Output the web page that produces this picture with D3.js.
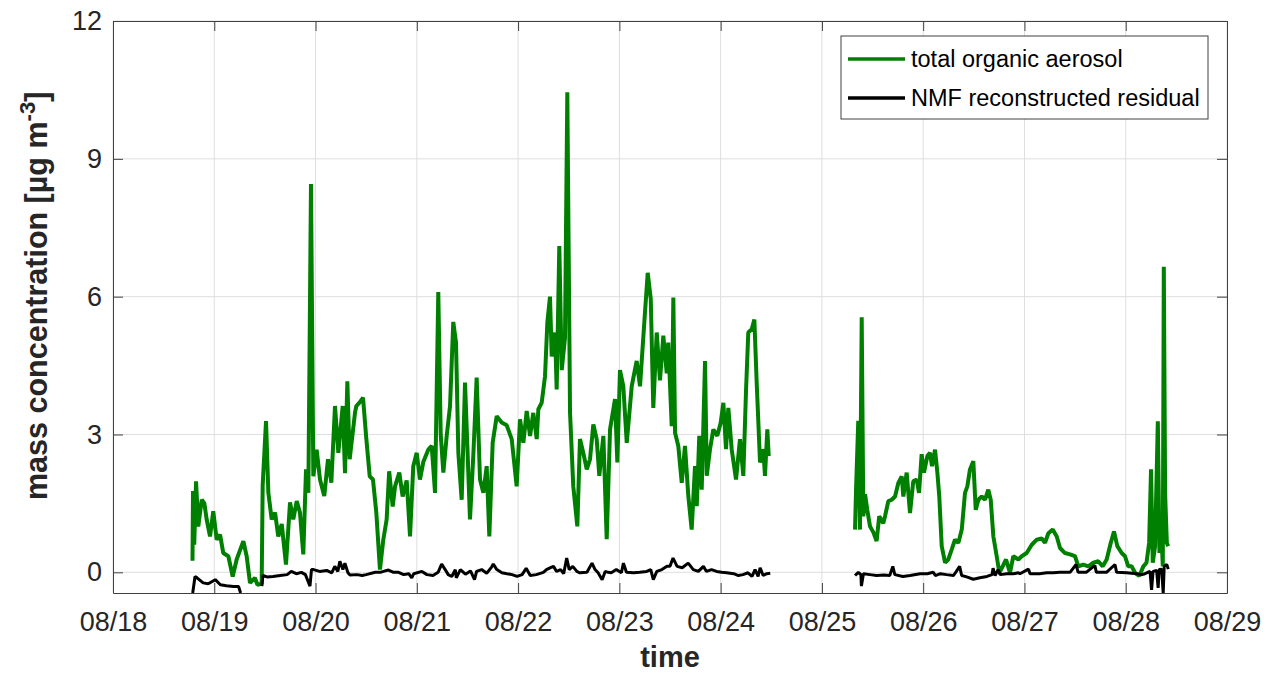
<!DOCTYPE html>
<html>
<head>
<meta charset="utf-8">
<script src="https://cdn.jsdelivr.net/npm/d3@7"></script>
<style>
  body { margin: 0; background: #fff; }
  svg text { font-family: "Liberation Sans", Arial, Helvetica, sans-serif; fill: #262626; }
  .grid line { stroke: #dedede; stroke-width: 1; }
  .axis path, .axis line { stroke: #404040; stroke-width: 1; }
</style>
</head>
<body>
<div id="chart"></div>
<script>

// time is given in days after 08/18 00:00, values in µg m-3
// null marks a gap in the measurement
const toaDays = [
  0.785, 0.790, 0.802, 0.820, 0.842, 0.876, 0.902, 0.925, 0.958, 0.990,
  1.024, 1.057, 1.089, 1.139, 1.182, 1.221, 1.287, 1.320, 1.353, 1.402,
  1.425, 1.468, 1.478, 1.511, 1.534, 1.567, 1.600, 1.632, 1.666, 1.708,
  1.748, 1.780, 1.814, 1.846, 1.879, 1.906, 1.929, 1.955, 1.978, 2.011,
  2.044, 2.086, 2.123, 2.156, 2.192, 2.225, 2.268, 2.291, 2.314, 2.337,
  2.390, 2.403, 2.436, 2.469, 2.502, 2.535, 2.567, 2.600, 2.636, 2.669,
  2.702, 2.727, 2.762, 2.785, 2.827, 2.860, 2.900, 2.933, 2.965, 2.999,
  3.031, 3.064, 3.113, 3.147, 3.180, 3.212, 3.236, 3.262, 3.295, 3.328,
  3.360, 3.387, 3.410, 3.443, 3.476, 3.499, 3.525, 3.558, 3.591, 3.624,
  3.657, 3.690, 3.716, 3.749, 3.789, 3.838, 3.888, 3.937, 3.986, 4.019,
  4.052, 4.085, 4.118, 4.150, 4.184, 4.200, 4.233, 4.266, 4.289, 4.315,
  4.332, 4.365, 4.381, 4.407, 4.431, 4.463, 4.486, 4.513, 4.545, 4.585,
  4.611, 4.644, 4.678, 4.710, 4.743, 4.776, 4.802, 4.842, 4.875, 4.908,
  4.957, 4.980, 5.006, 5.039, 5.073, 5.122, 5.171, 5.204, 5.253, 5.280,
  5.310, 5.335, 5.369, 5.401, 5.434, 5.468, 5.483, 5.517, 5.533, 5.550,
  5.582, 5.616, 5.648, 5.681, 5.714, 5.747, 5.764, 5.789, 5.813, 5.846,
  5.863, 5.895, 5.928, 5.967, 6.001, 6.027, 6.053, 6.076, 6.109, 6.152,
  6.191, 6.224, 6.251, 6.273, 6.307, 6.333, 6.356, 6.389, 6.421, 6.438,
  6.461, 6.475,
  7.0,
  7.327, 7.337, 7.359, 7.376, 7.393, 7.409, 7.426, 7.448, 7.475, 7.508,
  7.540, 7.566, 7.606, 7.623, 7.656, 7.689, 7.722, 7.754, 7.788, 7.804,
  7.837, 7.870, 7.902, 7.936, 7.959, 7.985, 8.008, 8.041, 8.067, 8.087,
  8.117, 8.140, 8.159, 8.183, 8.216, 8.248, 8.282, 8.314, 8.347, 8.381,
  8.413, 8.436, 8.462, 8.495, 8.519, 8.545, 8.578, 8.611, 8.643, 8.667,
  8.693, 8.726, 8.752, 8.785, 8.818, 8.857, 8.890, 8.940, 8.973, 9.022,
  9.072, 9.121, 9.170, 9.203, 9.236, 9.279, 9.319, 9.351, 9.400, 9.450,
  9.499, 9.532, 9.581, 9.631, 9.680, 9.729, 9.773, 9.812, 9.852, 9.884,
  9.917, 9.960, 9.993, 10.025, 10.059, 10.092, 10.134, 10.174, 10.205, 10.231,
  10.250, 10.267, 10.290, 10.317, 10.333, 10.347, 10.366, 10.376, 10.389, 10.406,
  10.419
];
const toaValues = [
  0.25, 1.77, 0.60, 1.98, 1.00, 1.58, 1.50, 1.15, 0.78, 1.33,
  0.71, 0.82, 0.42, 0.35, -0.09, 0.28, 0.68, 0.35, -0.23, -0.12,
  -0.27, -0.25, 1.90, 3.29, 1.73, 1.15, 1.30, 0.78, 1.05, 0.17,
  1.52, 1.15, 1.55, 1.30, 0.39, 2.24, 1.73, 8.45, 2.09, 2.67,
  2.02, 1.66, 2.46, 1.95, 3.62, 2.60, 3.62, 2.16, 4.16, 2.46,
  3.48, 3.62, 3.70, 3.80, 2.89, 2.09, 2.02, 1.30, 0.06, 0.71,
  1.15, 2.20, 1.43, 1.87, 2.17, 1.65, 2.00, 0.78, 2.31, 2.60,
  2.02, 2.40, 2.67, 2.75, 1.73, 6.10, 3.00, 2.17, 2.97, 3.62,
  5.45, 5.00, 2.60, 1.58, 4.13, 2.75, 1.15, 2.55, 4.24, 2.02,
  1.73, 2.31, 0.78, 2.82, 3.40, 3.26, 3.20, 2.90, 1.87, 3.33,
  2.82, 3.51, 2.97, 3.47, 2.90, 3.55, 3.69, 4.27, 5.44, 6.00,
  4.70, 5.22, 3.98, 7.10, 4.40, 5.10, 10.45, 3.47, 1.87, 1.00,
  2.90, 2.60, 2.24, 2.46, 3.22, 2.90, 2.10, 2.97, 0.72, 3.11,
  3.77, 2.39, 4.40, 4.05, 2.82, 4.05, 4.60, 4.05, 5.66, 6.52,
  5.95, 3.58, 5.22, 4.18, 5.15, 4.33, 5.00, 3.18, 5.98, 3.04,
  2.75, 1.95, 2.75, 1.66, 0.93, 2.31, 1.44, 2.97, 1.80, 4.60,
  2.10, 2.68, 3.11, 2.97, 3.26, 3.69, 2.68, 3.58, 2.68, 2.02,
  2.90, 2.10, 3.98, 5.22, 5.29, 5.50, 4.13, 2.39, 2.68, 2.10,
  3.11, 2.53,
  null,
  0.93, 1.80, 3.30, 0.93, 5.55, 1.22, 1.70, 1.36, 1.00, 0.87,
  0.68, 1.22, 1.07, 1.22, 1.55, 1.58, 1.65, 1.94, 2.09, 1.65,
  2.17, 1.29, 1.98, 2.02, 1.73, 2.57, 2.17, 2.53, 2.60, 2.31,
  2.67, 2.17, 1.65, 0.57, 0.21, 0.28, 0.50, 0.71, 0.64, 0.93,
  1.73, 1.87, 2.24, 2.42, 1.36, 1.58, 1.65, 1.58, 1.80, 1.58,
  0.78, 0.35, -0.01, 0.13, 0.28, -0.01, 0.35, 0.28, 0.35, 0.42,
  0.60, 0.71, 0.74, 0.64, 0.85, 0.93, 0.78, 0.53, 0.42, 0.39,
  0.35, 0.13, 0.17, 0.13, 0.21, 0.24, 0.13, 0.28, 0.64, 0.89,
  0.57, 0.42, 0.35, 0.13, 0.13, -0.01, -0.08, 0.13, 0.21, 0.64,
  2.24, 0.21, 0.57, 3.29, 0.42, 1.15, 0.13, 6.65, 1.72, 0.64,
  0.57
];

const residualDays = [
  0.787, 0.81, 0.83, 0.89, 0.94, 1.01, 1.06, 1.12, 1.19, 1.24, 1.26,
  1.35,
  1.47, 1.48, 1.52, 1.58, 1.65, 1.72, 1.76, 1.81, 1.86, 1.90,
  1.945, 1.96, 1.98, 2.04, 2.11, 2.16, 2.19, 2.22, 2.24, 2.27,
  2.29, 2.32, 2.34, 2.41, 2.46, 2.50, 2.59, 2.64, 2.67, 2.72,
  2.77, 2.82, 2.87, 2.92, 2.95, 2.97, 3.05, 3.10, 3.16, 3.21,
  3.245, 3.28, 3.31, 3.345, 3.38, 3.39, 3.43, 3.48, 3.53, 3.57,
  3.59, 3.64, 3.69, 3.74, 3.755, 3.79, 3.84, 3.89, 3.94, 3.99,
  4.04, 4.08, 4.12, 4.18, 4.25, 4.28, 4.32, 4.35, 4.38, 4.42,
  4.45, 4.48, 4.505, 4.54, 4.58, 4.61, 4.68, 4.73, 4.76, 4.79,
  4.83, 4.86, 4.89, 4.92, 4.97, 5.02, 5.04, 5.07, 5.14, 5.20,
  5.27, 5.31, 5.335, 5.37, 5.42, 5.47, 5.50, 5.53, 5.57, 5.62,
  5.68, 5.73, 5.78, 5.83, 5.86, 5.91, 5.96, 6.01, 6.06, 6.13,
  6.175, 6.22, 6.27, 6.31, 6.34, 6.37, 6.39, 6.42, 6.455, 6.49,
  7.0,
  7.327, 7.36, 7.385, 7.39, 7.41, 7.475, 7.54, 7.61, 7.67, 7.70,
  7.72, 7.80, 7.87, 7.97, 8.04, 8.10, 8.12, 8.17, 8.23, 8.30,
  8.36, 8.38, 8.43, 8.495, 8.56, 8.63, 8.68, 8.69, 8.71, 8.74,
  8.76, 8.825, 8.89, 8.94, 8.955, 9.04, 9.055, 9.15, 9.22, 9.285,
  9.35, 9.45, 9.51, 9.53, 9.61, 9.695, 9.71, 9.81, 9.894, 9.91,
  10.01, 10.11, 10.16, 10.19, 10.24, 10.255, 10.27, 10.305, 10.32, 10.33,
  10.355, 10.37, 10.38, 10.405, 10.42
];
const residualValues = [
  -0.45, -0.09, -0.12, -0.23, -0.25, -0.16, -0.27, -0.29, -0.31, -0.31, -0.45,
  null,
  -0.30, -0.07, -0.10, -0.09, -0.07, -0.05, 0.02, -0.03, 0.00, -0.05,
  -0.30, 0.06, 0.06, 0.02, 0.04, -0.01, 0.13, 0.02, 0.24, 0.06,
  0.20, -0.01, -0.06, -0.05, -0.07, -0.05, 0.00, 0.00, 0.02, 0.05,
  0.00, 0.00, -0.05, -0.03, -0.12, -0.03, 0.02, -0.05, -0.07, 0.00,
  0.18, 0.06, -0.05, -0.09, 0.06, -0.12, 0.06, -0.04, 0.03, -0.16,
  0.02, 0.06, -0.02, 0.12, 0.18, 0.06, -0.01, -0.03, -0.05, -0.09,
  -0.05, 0.09, -0.07, -0.05, 0.00, 0.06, 0.10, 0.13, 0.02, 0.06,
  -0.03, 0.31, 0.06, 0.13, 0.02, -0.01, 0.00, 0.20, 0.06, -0.01,
  -0.16, 0.02, 0.00, -0.01, 0.06, -0.01, 0.20, 0.00, -0.01, 0.00,
  0.02, 0.06, -0.16, 0.02, 0.06, 0.13, 0.13, 0.31, 0.13, 0.10,
  0.20, 0.06, 0.02, 0.13, 0.02, 0.06, 0.02, 0.00, -0.01, -0.03,
  -0.07, -0.05, -0.01, -0.09, 0.06, -0.09, 0.10, -0.07, -0.03, -0.02,
  null,
  -0.07, 0.00, -0.05, -0.30, -0.03, -0.05, -0.07, -0.06, -0.07, 0.13,
  -0.05, -0.09, -0.07, -0.03, -0.03, 0.00, -0.07, -0.03, -0.05, -0.07,
  0.13, -0.07, -0.10, -0.15, -0.12, -0.09, -0.05, 0.09, -0.07, 0.06,
  -0.05, -0.03, -0.03, -0.01, -0.03, 0.07, -0.03, -0.03, -0.01, -0.01,
  0.00, 0.00, 0.17, 0.00, 0.00, 0.15, 0.00, 0.00, 0.17, 0.00,
  -0.01, -0.03, -0.05, -0.03, 0.02, -0.38, 0.02, 0.04, -0.34, 0.06,
  0.07, -0.45, 0.13, 0.17, 0.07
];

const seriesNames = ["total organic aerosol", "NMF reconstructed residual"];
const yTickValues = [0, 3, 6, 9, 12];
const yDomain = [-0.45, 12];
// only month and day are shown, the year is a placeholder
const startDate = new Date(2019, 7, 18);
const endDate = new Date(2019, 7, 29);


/** Class drawing the aerosol time series chart. */
class AerosolChart {

  /**
   * Builds the svg, the scales and the plot area.
   */
  constructor(){
    this.width = 1268;
    this.height = 674;
    this.margin = {top: 21, right: 41, bottom: 81, left: 113};
    this.plotWidth = this.width - this.margin.left - this.margin.right;
    this.plotHeight = this.height - this.margin.top - this.margin.bottom;

    this.svg = d3.select("#chart").append("svg")
      .attr("width", this.width)
      .attr("height", this.height);

    this.plot = this.svg.append("g")
      .attr("transform", "translate(" + this.margin.left + "," + this.margin.top + ")");

    this.x = d3.scaleTime()
      .domain([startDate, endDate])
      .range([0, this.plotWidth]);
    this.y = d3.scaleLinear()
      .domain(yDomain)
      .range([this.plotHeight, 0]);
  };

  /**
   * Turns two parallel arrays into point objects.
   */
  toPoints (days, values){
    return days.map((t, i) => ({
      date: new Date(startDate.getTime() + t * 864e5),
      value: values[i]
    }));
  }

  update (){
    let x = this.x, y = this.y;
    let dayTicks = d3.timeDay.range(startDate, d3.timeDay.offset(endDate, 1));

    //--------------------------------------------------
    // grid
    //--------------------------------------------------
    let grid = this.plot.append("g").attr("class", "grid");
    grid.selectAll(".vgrid")
      .data(dayTicks)
      .enter()
      .append("line")
      .attr("class", "vgrid")
      .attr("x1", d => x(d)).attr("x2", d => x(d))
      .attr("y1", 0).attr("y2", this.plotHeight);
    grid.selectAll(".hgrid")
      .data(yTickValues)
      .enter()
      .append("line")
      .attr("class", "hgrid")
      .attr("x1", 0).attr("x2", this.plotWidth)
      .attr("y1", d => y(d)).attr("y2", d => y(d));

    //--------------------------------------------------
    // series
    //--------------------------------------------------
    this.svg.append("defs").append("clipPath")
      .attr("id", "plotclip")
      .append("rect")
      .attr("width", this.plotWidth)
      .attr("height", this.plotHeight);

    let line = d3.line()
      .defined(d => d.value !== null)
      .x(d => x(d.date))
      .y(d => y(d.value));

    let lines = this.plot.append("g").attr("clip-path", "url(#plotclip)");
    lines.append("path")
      .datum(this.toPoints(toaDays, toaValues))
      .attr("d", line)
      .attr("fill", "none")
      .attr("stroke", "#008000")
      .attr("stroke-width", 4)
      .attr("stroke-linejoin", "bevel");
    lines.append("path")
      .datum(this.toPoints(residualDays, residualValues))
      .attr("d", line)
      .attr("fill", "none")
      .attr("stroke", "#000000")
      .attr("stroke-width", 3)
      .attr("stroke-linejoin", "bevel");

    //--------------------------------------------------
    // axes, ticks on all four sides pointing inward
    //--------------------------------------------------
    let fmt = d3.timeFormat("%m/%d");
    this.plot.append("g")
      .attr("class", "axis")
      .attr("transform", "translate(0," + this.plotHeight + ")")
      .call(d3.axisBottom(x).tickValues(dayTicks).tickFormat(fmt)
        .tickSizeInner(-10).tickSizeOuter(0).tickPadding(19))
      .selectAll("text").style("font-size", "27px");
    this.plot.append("g")
      .attr("class", "axis")
      .call(d3.axisTop(x).tickValues(dayTicks).tickFormat("")
        .tickSizeInner(-10).tickSizeOuter(0));
    this.plot.append("g")
      .attr("class", "axis")
      .call(d3.axisLeft(y).tickValues(yTickValues)
        .tickSizeInner(-10).tickSizeOuter(0).tickPadding(11))
      .selectAll("text").style("font-size", "27px");
    this.plot.append("g")
      .attr("class", "axis")
      .attr("transform", "translate(" + this.plotWidth + ",0)")
      .call(d3.axisRight(y).tickValues(yTickValues).tickFormat("")
        .tickSizeInner(-10).tickSizeOuter(0));

    //--------------------------------------------------
    // axis labels
    //--------------------------------------------------
    this.svg.append("text")
      .attr("x", this.margin.left + this.plotWidth / 2)
      .attr("y", 667)
      .attr("text-anchor", "middle")
      .style("font-size", "29px")
      .style("font-weight", "bold")
      .text("time");

    let ylab = this.svg.append("text")
      .attr("transform", "translate(47,500) rotate(-90)")
      .attr("text-anchor", "start")
      .style("font-size", "30.5px")
      .style("font-weight", "bold");
    ylab.append("tspan").text("mass concentration [µg m");
    ylab.append("tspan").attr("dy", -12).style("font-size", "22px").text("-3");
    ylab.append("tspan").attr("dy", 12).text("]");

    //--------------------------------------------------
    // legend
    //--------------------------------------------------
    let legend = this.svg.append("g").attr("transform", "translate(841,36)");
    legend.append("rect")
      .attr("width", 367)
      .attr("height", 83)
      .attr("fill", "#fff")
      .attr("stroke", "#404040")
      .attr("stroke-width", 1);
    let colors = ["#008000", "#000000"];
    let rows = legend.selectAll(".entry")
      .data(seriesNames)
      .enter()
      .append("g")
      .attr("class", "entry")
      .attr("transform", (d, i) => "translate(0," + (23 + i * 39) + ")");
    rows.append("line")
      .attr("x1", 7).attr("x2", 64)
      .attr("stroke", (d, i) => colors[i])
      .attr("stroke-width", 3.5);
    rows.append("text")
      .attr("x", 70)
      .attr("y", 8)
      .style("font-size", "23.5px")
      .style("fill", "#000")
      .text(d => d);
  };
}

let chart = new AerosolChart();
chart.update();
</script>
</body>
</html>
